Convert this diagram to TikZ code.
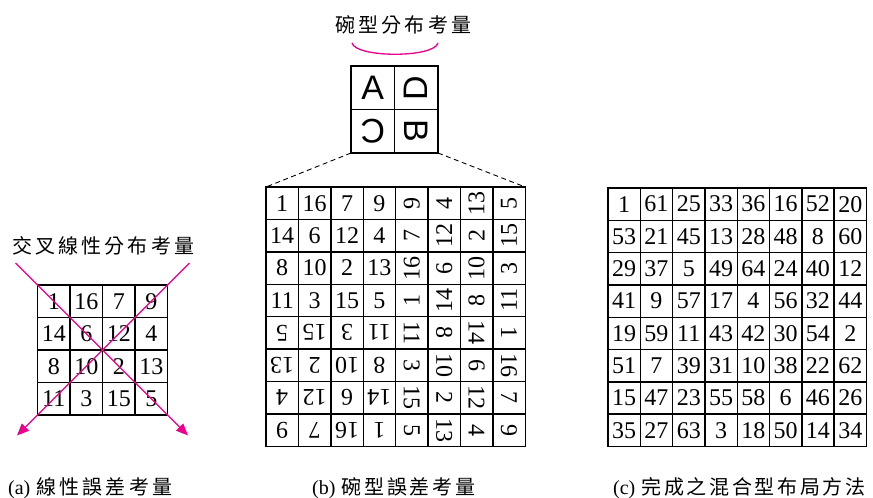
\documentclass[tikz,border=0pt]{standalone}
\usepackage{fontspec}
\setmainfont{Liberation Serif}
\newfontfamily\cjk{Noto Sans CJK TC}
\newfontfamily\sansf{Liberation Sans}
\usetikzlibrary{arrows.meta}
\newcommand{\spreadbox}[2]{\makebox[#1][s]{#2}}
\begin{document}
\begin{tikzpicture}[x=1pt,y=-1pt,
  cellbox/.style={draw,line width=1.4pt,minimum size=#1,inner sep=0pt,font=\fontsize{24}{24}\selectfont},
  letterbox/.style={draw,line width=1.4pt,minimum size=#1,inner sep=0pt,font=\sansf\fontsize{34}{34}\selectfont},
  titletext/.style={anchor=west,inner sep=0pt,font=\cjk\fontsize{20}{20}\selectfont},
  captext/.style={anchor=west,inner sep=0pt,font=\fontsize{20}{20}\selectfont},
  magline/.style={draw=magenta,line width=1.3pt},
  magarrow/.style={magline,-{Triangle[length=12pt,width=10pt]}},
  dashline/.style={draw,line width=0.9pt,dash pattern=on 5pt off 3.5pt}
]
\useasboundingbox (0,0) rectangle (873,498);

% ---------- (a) ----------
\node[titletext] (ta) at (12,246) {\spreadbox{182pt}{交\hfill 叉\hfill 線\hfill 性\hfill 分\hfill 布\hfill 考\hfill 量}};
\foreach \row [count=\i] in {{1,16,7,9},{14,6,12,4},{8,10,2,13},{11,3,15,5}}{
  \foreach \v [count=\j] in \row {
    \node[cellbox=32.5pt] (a-\i-\j) at ({37.5+32.5*(\j-0.5)},{285+32.5*(\i-0.5)}) {\v};
  }
}
\coordinate (a-tl) at (15.5,263);
\coordinate (a-br) at (188,435.5);
\coordinate (a-tr) at (189.5,263);
\coordinate (a-bl) at (17,435.5);
\draw[magarrow] (a-tl) -- (a-br);
\draw[magarrow] (a-tr) -- (a-bl);

% ---------- (b) ----------
\node[titletext] (tb) at (335,25) {\spreadbox{136pt}{碗\hfill 型\hfill 分\hfill 布\hfill 考\hfill 量}};
\coordinate (arcL) at (352,43);
\coordinate (arcR) at (438,43);
\draw[magline] (arcL) .. controls (356,58) and (434,58) .. (arcR);

\node[letterbox=43.5pt] (s-1-1) at (372.75,87.75) {A};
\node[letterbox=43.5pt,rotate=90] (s-1-2) at (416.25,87.75) {D};
\node[letterbox=43.5pt,rotate=180] (s-2-1) at (372.75,131.25) {C};
\node[letterbox=43.5pt,rotate=-90] (s-2-2) at (416.25,131.25) {B};
\coordinate (s-SW) at (351,153);
\coordinate (s-SE) at (438,153);

\foreach \row [count=\i] in {
  {1,16,7,9,9,4,13,5},
  {14,6,12,4,7,12,2,15},
  {8,10,2,13,16,6,10,3},
  {11,3,15,5,1,14,8,11},
  {5,15,3,11,11,8,14,1},
  {13,2,10,8,3,10,6,16},
  {4,12,6,14,15,2,12,7},
  {9,7,16,1,5,13,4,9}}{
  \foreach \v [count=\j] in \row {
    \pgfmathsetmacro\rot{(\i<5)*(\j>4)*90 + (\i>4)*(\j<5)*180 - (\i>4)*(\j>4)*90}
    \node[cellbox=32.4pt,rotate=\rot] (b-\i-\j) at ({266+32.4*(\j-0.5)},{187+32.4*(\i-0.5)}) {\v};
  }
}
\coordinate (b-NW) at (266,187);
\coordinate (b-NE) at (525.2,187);
\draw[dashline] (s-SW) -- (b-NW);
\draw[dashline] (s-SE) -- (b-NE);

% ---------- (c) ----------
\foreach \row [count=\i] in {
  {1,61,25,33,36,16,52,20},
  {53,21,45,13,28,48,8,60},
  {29,37,5,49,64,24,40,12},
  {41,9,57,17,4,56,32,44},
  {19,59,11,43,42,30,54,2},
  {51,7,39,31,10,38,22,62},
  {15,47,23,55,58,6,46,26},
  {35,27,63,3,18,50,14,34}}{
  \foreach \v [count=\j] in \row {
    \node[cellbox=32.3pt] (c-\i-\j) at ({608+32.3*(\j-0.5)},{188+32.3*(\i-0.5)}) {\v};
  }
}

% ---------- captions ----------
\node[captext] (capa) at (8,488) {(a)\hspace{6pt}{\cjk\spreadbox{136pt}{線\hfill 性\hfill 誤\hfill 差\hfill 考\hfill 量}}};
\node[captext] (capb) at (312,488) {(b)\hspace{6pt}{\cjk\spreadbox{134pt}{碗\hfill 型\hfill 誤\hfill 差\hfill 考\hfill 量}}};
\node[captext] (capc) at (613,488) {(c)\hspace{6pt}{\cjk\spreadbox{224pt}{完\hfill 成\hfill 之\hfill 混\hfill 合\hfill 型\hfill 布\hfill 局\hfill 方\hfill 法}}};
\end{tikzpicture}
\end{document}
